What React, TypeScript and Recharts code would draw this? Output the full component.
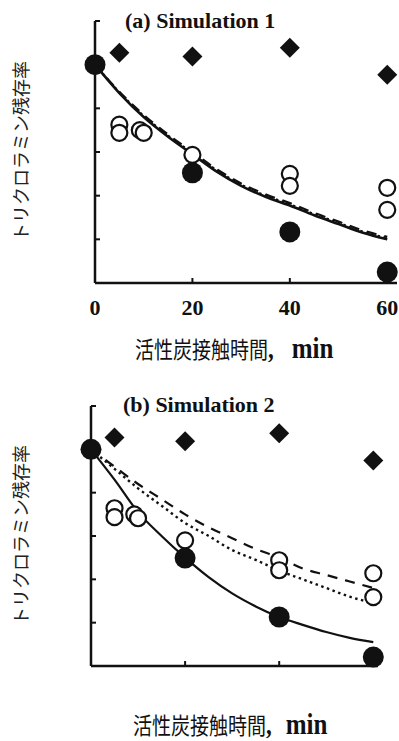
import { ComposedChart, Line, Scatter, XAxis, YAxis } from "recharts"

// contact time grid used for the simulated curves
const tLine = [0, 5, 10, 15, 20, 25, 30, 35, 40, 45, 50, 55, 60]

// (a) Simulation 1
const aSolid = [1.0, 0.87, 0.76, 0.67, 0.59, 0.51, 0.445, 0.395, 0.355, 0.31, 0.27, 0.23, 0.2]
const aDashed = [1.0, 0.876, 0.77, 0.68, 0.6, 0.521, 0.456, 0.406, 0.366, 0.321, 0.281, 0.241, 0.211]
const aDotted = [1.0, 0.873, 0.765, 0.675, 0.595, 0.516, 0.45, 0.4, 0.36, 0.315, 0.275, 0.235, 0.205]
const aFilledT = [0, 20, 40, 60]
const aFilledV = [1.0, 0.505, 0.234, 0.05]
const aOpenT = [5, 5, 9.2, 10, 20, 40, 40, 60, 60]
const aOpenV = [0.725, 0.688, 0.7, 0.688, 0.587, 0.5, 0.445, 0.436, 0.335]
const aDiamT = [5, 20, 40, 60]
const aDiamV = [1.055, 1.037, 1.077, 0.954]

// (b) Simulation 2
const bSolid = [1.0, 0.86, 0.71, 0.6, 0.5, 0.41, 0.335, 0.275, 0.226, 0.19, 0.157, 0.13, 0.11]
const bDashed = [1.0, 0.92, 0.84, 0.77, 0.7, 0.64, 0.59, 0.54, 0.5, 0.45, 0.42, 0.39, 0.36]
const bDotted = [1.0, 0.91, 0.82, 0.74, 0.66, 0.6, 0.535, 0.49, 0.44, 0.4, 0.36, 0.32, 0.29]
const bFilledT = [0, 20, 40, 60]
const bFilledV = [1.0, 0.498, 0.226, 0.041]
const bOpenT = [5, 5, 9.2, 10, 20, 40, 40, 60, 60]
const bOpenV = [0.728, 0.687, 0.7, 0.682, 0.58, 0.488, 0.442, 0.428, 0.318]
const bDiamT = [5, 20, 40, 60]
const bDiamV = [1.055, 1.037, 1.074, 0.949]

const xTicks = [0, 20, 40, 60]
const yTicks = [0, 0.2, 0.4, 0.6, 0.8, 1.0, 1.2]

const INK = "#111"
const JP = "'Noto Sans CJK JP', sans-serif"
const SERIF = "'Liberation Serif', 'Times New Roman', serif"

const pts = (ts: number[], vs: number[]) => ts.map((t, i) => ({ t, v: vs[i] }))
const curves = (s: number[], d: number[], o: number[]) =>
  tLine.map((t, i) => ({ t, solid: s[i], dashed: d[i], dotted: o[i] }))

const FilledDot = (p: any) => <circle cx={p.cx} cy={p.cy} r={10.5} fill={INK} />
const OpenDot = (p: any) => <circle cx={p.cx} cy={p.cy} r={8} fill="#fff" stroke={INK} strokeWidth={2.2} />
const Diamond = (p: any) => (
  <path d={`M${p.cx},${p.cy - 10}L${p.cx + 10},${p.cy}L${p.cx},${p.cy + 10}L${p.cx - 10},${p.cy}Z`} fill={INK} />
)
const NoLabel = () => <g />

interface PanelProps {
  height: number
  margin: { top: number; right: number; bottom: number; left: number }
  xMax: number
  showXLabels: boolean
  solidWidth: number
  lines: { t: number; solid: number; dashed: number; dotted: number }[]
  filled: { t: number; v: number }[]
  open: { t: number; v: number }[]
  diamonds: { t: number; v: number }[]
}

function Panel({ height, margin, xMax, showXLabels, solidWidth, lines, filled, open, diamonds }: PanelProps) {
  return (
    <ComposedChart width={399} height={height} data={lines} margin={margin}>
      <XAxis
        dataKey="t"
        type="number"
        domain={[0, xMax]}
        ticks={xTicks}
        height={30}
        stroke={INK}
        axisLine={{ strokeWidth: 2.5 }}
        tickLine={{ strokeWidth: 2 }}
        tickSize={-5}
        tickMargin={21.5}
        tick={showXLabels ? { fill: INK, fontSize: 22, fontWeight: "bold", fontFamily: SERIF } : NoLabel}
      />
      <YAxis
        type="number"
        domain={[0, 1.2]}
        ticks={yTicks}
        width={1}
        stroke={INK}
        axisLine={{ strokeWidth: 2.5 }}
        tickLine={{ strokeWidth: 2 }}
        tickSize={-5}
        tick={NoLabel}
      />
      <Line dataKey="dashed" type="monotone" stroke={INK} strokeWidth={2.2} strokeDasharray="10 8" dot={false} isAnimationActive={false} />
      <Line dataKey="dotted" type="monotone" stroke={INK} strokeWidth={2.4} strokeDasharray="2.5 3.5" dot={false} isAnimationActive={false} />
      <Line dataKey="solid" type="monotone" stroke={INK} strokeWidth={solidWidth} dot={false} isAnimationActive={false} />
      <Scatter data={diamonds} dataKey="v" shape={Diamond} isAnimationActive={false} />
      <Scatter data={open} dataKey="v" shape={OpenDot} isAnimationActive={false} />
      <Scatter data={filled} dataKey="v" shape={FilledDot} isAnimationActive={false} />
    </ComposedChart>
  )
}

function XTitle({ x, y, gap }: { x: number; y: number; gap: number }) {
  return (
    <text transform={`translate(${x} ${y}) scale(1 1.2)`} fill={INK}>
      <tspan fontFamily={JP} fontSize={19}>活性炭接触時間</tspan>
      <tspan fontFamily={SERIF} fontSize={23} fontWeight="bold">,</tspan>
      <tspan dx={gap} fontFamily={SERIF} fontSize={25} fontWeight="bold">min</tspan>
    </text>
  )
}

function YTitle({ cx, cy }: { cx: number; cy: number }) {
  return (
    <text x={cx} y={cy} transform={`rotate(-90 ${cx} ${cy})`} textAnchor="middle" dominantBaseline="central" fontFamily={JP} fontSize={18} fill="#222">
      トリクロラミン残存率
    </text>
  )
}

export default function App() {
  return (
    <div style={{ position: "absolute", left: 0, top: 0, width: 399, height: 741, background: "#fff" }}>
      <div style={{ position: "absolute", left: 0, top: 0 }}>
        <Panel
          height={370}
          margin={{ top: 21, right: 2, bottom: 57, left: 94 }}
          xMax={62}
          showXLabels
          solidWidth={2.6}
          lines={curves(aSolid, aDashed, aDotted)}
          filled={pts(aFilledT, aFilledV)}
          open={pts(aOpenT, aOpenV)}
          diamonds={pts(aDiamT, aDiamV)}
        />
      </div>
      <div style={{ position: "absolute", left: 0, top: 370 }}>
        <Panel
          height={371}
          margin={{ top: 36, right: 21, bottom: 45, left: 90 }}
          xMax={61}
          showXLabels={false}
          solidWidth={2.2}
          lines={curves(bSolid, bDashed, bDotted)}
          filled={pts(bFilledT, bFilledV)}
          open={pts(bOpenT, bOpenV)}
          diamonds={pts(bDiamT, bDiamV)}
        />
      </div>
      <svg width={399} height={741} style={{ position: "absolute", left: 0, top: 0, pointerEvents: "none" }}>
        <text x={125} y={28} fontFamily={SERIF} fontSize={22} fontWeight="bold" fill={INK}>(a) Simulation 1</text>
        <text x={123} y={412} fontFamily={SERIF} fontSize={22} fontWeight="bold" fill={INK}>(b) Simulation 2</text>
        <YTitle cx={20} cy={151} />
        <YTitle cx={20} cy={535} />
        <XTitle x={135} y={358} gap={18} />
        <XTitle x={133} y={734} gap={14} />
      </svg>
    </div>
  )
}
